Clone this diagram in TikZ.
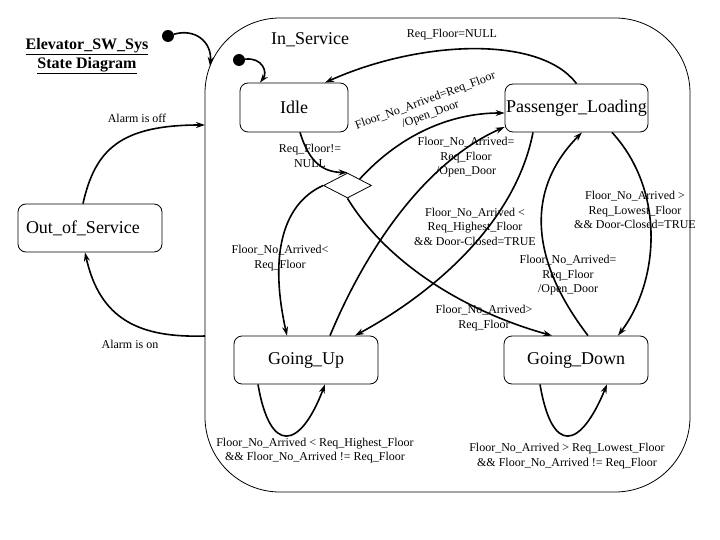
\documentclass[tikz,border=0pt]{standalone}
\usepackage{fontspec}
\setmainfont{Liberation Serif}
\usetikzlibrary{arrows.meta,shapes.geometric,calc}
\begin{document}
\begin{tikzpicture}[x=1pt,y=-1pt,
  statebox/.style={draw,rounded corners=8pt,line width=0.8pt,minimum width=144pt,minimum height=48pt,inner sep=0pt,font=\fontsize{18}{20}\selectfont},
  lbl/.style={font=\fontsize{12}{14.5}\selectfont,align=center,inner sep=0pt},
  conn/.style={line width=1.6pt,-{Stealth[length=9pt,width=6pt]}},
  dotnode/.style={circle,fill,inner sep=0pt,minimum size=12pt}]
\useasboundingbox (0,0) rectangle (720,540);

% container
\node[draw,rounded corners=75pt,line width=0.8pt,minimum width=485pt,minimum height=474pt] (inservice) at (447.5,255) {};
\node[font=\fontsize{18}{20}\selectfont,inner sep=0pt] (islabel) at (310,40) {In\_Service};

% title
\node[font=\fontsize{16}{19}\selectfont\bfseries,align=center,inner sep=0pt] (title) at (87,56) {\underline{Elevator\_SW\_Sys}\\\underline{State Diagram}};

% states
\node[statebox,minimum width=108pt,minimum height=49pt] (idle) at (294,107.5) {Idle};
\node[statebox,minimum width=143pt] (pl) at (576.5,108) {Passenger\_Loading};
\node[statebox,text width=128pt,align=left,inner xsep=8pt] (oos) at (90,228) {Out\_of\_Service};
\node[statebox] (gu) at (306,360) {Going\_Up};
\node[statebox] (gd) at (576,360) {Going\_Down};
\node[draw,diamond,minimum width=48pt,minimum height=25pt,inner sep=0pt,line width=0.8pt] (dec) at (347.5,185.5) {};
\node[dotnode] (init1) at (168,36) {};
\node[dotnode] (init2) at (239,60) {};

\coordinate (isentry) at (210,66);
\coordinate (isoff) at (205,125);
\coordinate (ison) at (205,336);

% connectors
\draw[conn] (init1) .. controls (195,28) and (212,42) .. (isentry);
\draw[conn] (init2) .. controls (262,57) and (268,72) .. ([xshift=-34pt]idle.north);
\draw[conn] (pl.north) .. controls (540,35) and (420,40) .. ([xshift=31pt]idle.north);
\draw[conn] ([xshift=6pt]idle.south) .. controls (310,165) and (325,172) .. (dec.north);
\draw[conn] (dec.west) .. controls (280,205) and (270,260) .. ([xshift=-19pt]gu.north);
\draw[conn] (dec.north east) .. controls (400,135) and (450,113) .. ([yshift=-5pt]pl.west);
\draw[conn] (dec.south) .. controls (385,260) and (460,310) .. ([xshift=-24pt]gd.north);
\draw[conn] ([xshift=24pt]gu.north) .. controls (370,240) and (430,160) .. ([yshift=-19pt]pl.west);
\draw[conn] ([xshift=-43.5pt]pl.south) .. controls (515,225) and (430,295) .. ([xshift=49pt]gu.north);
\draw[conn] ([xshift=12pt]gd.north) .. controls (530,260) and (525,190) .. ([xshift=5.5pt]pl.south);
\draw[conn] ([xshift=35.5pt]pl.south) .. controls (665,190) and (660,280) .. ([xshift=42pt]gd.north);
\draw[conn] ([xshift=-48pt]gu.south) .. controls (270,455) and (300,450) .. ([xshift=19pt]gu.south);
\draw[conn] ([xshift=-36pt]gd.south) .. controls (552,455) and (580,450) .. ([xshift=31pt]gd.south);
\draw[conn] ([xshift=-7pt]oos.north) .. controls (95,150) and (120,125) .. (isoff);
\draw[conn] (ison) .. controls (140,338) and (100,320) .. ([xshift=-5pt]oos.south);

% labels
\node[lbl] (l1) at (137,118) {Alarm is off};
\node[lbl] (l2) at (130,344) {Alarm is on};
\node[lbl] (l3) at (452,35) {Req\_Floor=NULL};
\node[lbl,font=\fontsize{12}{15}\selectfont] (l4) at (310,155.5) {Req\_Floor!=\\NULL};
\node[lbl] (l5) at (280,258) {Floor\_No\_Arrived<\\Req\_Floor};
\node[lbl,rotate=20] (l6) at (428,108) {Floor\_No\_Arrived=Req\_Floor\\/Open\_Door};
\node[lbl] (l7) at (466,157.5) {Floor\_No\_Arrived=\\Req\_Floor\\/Open\_Door};
\node[lbl] (l8) at (475,226.5) {Floor\_No\_Arrived <\\Req\_Highest\_Floor\\\&\& Door-Closed=TRUE};
\node[lbl] (l9) at (635,210) {Floor\_No\_Arrived >\\Req\_Lowest\_Floor\\\&\& Door-Closed=TRUE};
\node[lbl] (l10) at (568,275.5) {Floor\_No\_Arrived=\\Req\_Floor\\/Open\_Door};
\node[lbl] (l11) at (484,318) {Floor\_No\_Arrived>\\Req\_Floor};
\node[lbl] (l12) at (315,450.5) {Floor\_No\_Arrived < Req\_Highest\_Floor\\\&\& Floor\_No\_Arrived != Req\_Floor};
\node[lbl] (l13) at (567,456) {Floor\_No\_Arrived > Req\_Lowest\_Floor\\\&\& Floor\_No\_Arrived != Req\_Floor};
\end{tikzpicture}
\end{document}
